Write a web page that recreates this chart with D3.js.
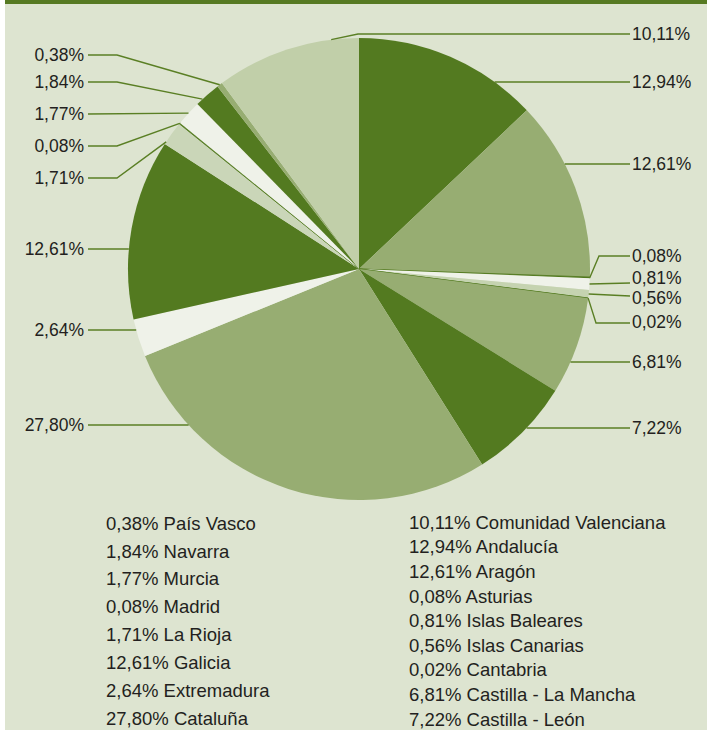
<!DOCTYPE html>
<html>
<head>
<meta charset="utf-8">
<script src="https://cdn.jsdelivr.net/npm/d3@7"></script>
<style>
  body { margin: 0; background: #fff; }
  svg { display: block; font-family: "Liberation Sans", Arial, sans-serif; }
</style>
</head>
<body>
<svg width="707" height="732"></svg>
<script>
// slices, clockwise from 12 o'clock
const regions = ["Andalucía", "Aragón", "Asturias", "Islas Baleares", "Islas Canarias", "Cantabria",
  "Castilla - La Mancha", "Castilla - León", "Cataluña", "Extremadura", "Galicia", "La Rioja",
  "Madrid", "Murcia", "Navarra", "País Vasco", "Comunidad Valenciana"];
const shares = [12.94, 12.61, 0.08, 0.81, 0.56, 0.02, 6.81, 7.22, 27.80, 2.64, 12.61, 1.71,
  0.08, 1.77, 1.84, 0.38, 10.11];

// legend columns
const legendLeft = ["País Vasco", "Navarra", "Murcia", "Madrid", "La Rioja", "Galicia", "Extremadura", "Cataluña"];
const legendRight = ["Comunidad Valenciana", "Andalucía", "Aragón", "Asturias", "Islas Baleares",
  "Islas Canarias", "Cantabria", "Castilla - La Mancha", "Castilla - León"];

const dark = "#537a20", mid = "#97ad72", white = "#eff2e9";
const color = d3.scaleOrdinal()
  .domain(regions)
  .range([dark, mid, dark, white, "#c5d3b0", dark, mid, dark, mid, white, dark, "#cad6b8",
    dark, white, dark, mid, "#c1cfa9"]);

// label placement: side, y of leader, text y if different, optional elbow x,
// t = where in the slice the leader starts (none = horizontal leader)
const labelPos = {
  "Comunidad Valenciana": { side: "r", y: 34, elbow: 358, t: 0.81 },
  "Andalucía": { side: "r", y: 82 },
  "Aragón": { side: "r", y: 164 },
  "Asturias": { side: "r", y: 256, elbow: 599, t: 0.5 },
  "Islas Baleares": { side: "r", y: 283, ty: 278, t: 0.5 },
  "Islas Canarias": { side: "r", y: 296, ty: 298, t: 0.5 },
  "Cantabria": { side: "r", y: 323, ty: 322, elbow: 596, t: 0.5 },
  "Castilla - La Mancha": { side: "r", y: 362 },
  "Castilla - León": { side: "r", y: 428 },
  "Cataluña": { side: "l", y: 425 },
  "Extremadura": { side: "l", y: 330 },
  "Galicia": { side: "l", y: 249 },
  "La Rioja": { side: "l", y: 178, elbow: 117, t: 0.1 },
  "Madrid": { side: "l", y: 146, elbow: 117, t: 0.5 },
  "Murcia": { side: "l", y: 114, t: 0.5 },
  "Navarra": { side: "l", y: 82, elbow: 117, t: 0.26 },
  "País Vasco": { side: "l", y: 55, elbow: 117, t: 0.5 }
};

const svg = d3.select("svg");
const cx = 359, cy = 269, radius = 231;
const rightX = 632, leftX = 84;

const es = d3.formatLocale({ decimal: ",", thousands: ".", grouping: [3], currency: ["", "€"] });
const pct = v => es.format(".2f")(v) + "%";

svg.append("rect").attr("x", 5).attr("y", 0).attr("width", 702).attr("height", 730).attr("fill", "#dde4d0");
svg.append("rect").attr("x", 5).attr("y", 0).attr("width", 702).attr("height", 4).attr("fill", "#567a22");

const data = regions.map((r, i) => ({ region: r, share: shares[i] }));
const pie = d3.pie().sort(null).value(d => d.share);
const arc = d3.arc().innerRadius(0).outerRadius(radius);
const arcs = pie(data);

const g = svg.append("g").attr("transform", "translate(" + cx + "," + cy + ")");
g.selectAll("path.slice")
  .data(arcs)
  .enter()
  .append("path")
  .attr("class", "slice")
  .attr("d", arc)
  .attr("fill", d => color(d.data.region))
  .attr("stroke", d => d.data.share < 0.1 ? color(d.data.region) : "none")
  .attr("stroke-width", 0.9);

// leaders + labels
const leaders = svg.append("g");
arcs.forEach(d => {
  const p = labelPos[d.data.region];
  const left = p.side === "l";
  let start;
  if (p.t === undefined) {
    const dy = p.y - cy;
    const dx = Math.sqrt(radius * radius - dy * dy);
    start = [cx + (left ? -dx : dx), p.y];
  } else {
    const a = d.startAngle + (d.endAngle - d.startAngle) * p.t;
    start = [cx + radius * Math.sin(a), cy - radius * Math.cos(a)];
  }
  const endX = left ? leftX + 4 : rightX - 2;
  const pts = [start];
  if (p.elbow !== undefined) pts.push([p.elbow, p.y]);
  pts.push([endX, p.y]);
  leaders.append("path")
    .attr("d", d3.line()(pts))
    .attr("fill", "none")
    .attr("stroke", "#5a7f24")
    .attr("stroke-width", 1.4);
  leaders.append("text")
    .attr("x", left ? leftX : rightX)
    .attr("y", p.ty !== undefined ? p.ty : p.y)
    .attr("dy", "0.36em")
    .attr("text-anchor", left ? "end" : "start")
    .attr("font-size", 17.5)
    .attr("fill", "#231f20")
    .text(pct(d.data.share));
});

// legend
const share = r => shares[regions.indexOf(r)];
const yl = d3.scaleLinear().domain([0, 7]).range([523, 718]);
const yr = d3.scaleLinear().domain([0, 8]).range([522, 719]);
svg.append("g").selectAll("text")
  .data(legendLeft)
  .enter()
  .append("text")
  .attr("x", 106)
  .attr("y", (d, i) => yl(i))
  .attr("dy", "0.36em")
  .attr("font-size", 18.5)
  .attr("fill", "#231f20")
  .text(d => pct(share(d)) + " " + d);
svg.append("g").selectAll("text")
  .data(legendRight)
  .enter()
  .append("text")
  .attr("x", 409)
  .attr("y", (d, i) => yr(i))
  .attr("dy", "0.36em")
  .attr("font-size", 18.5)
  .attr("fill", "#231f20")
  .text(d => pct(share(d)) + " " + d);
</script>
</body>
</html>
